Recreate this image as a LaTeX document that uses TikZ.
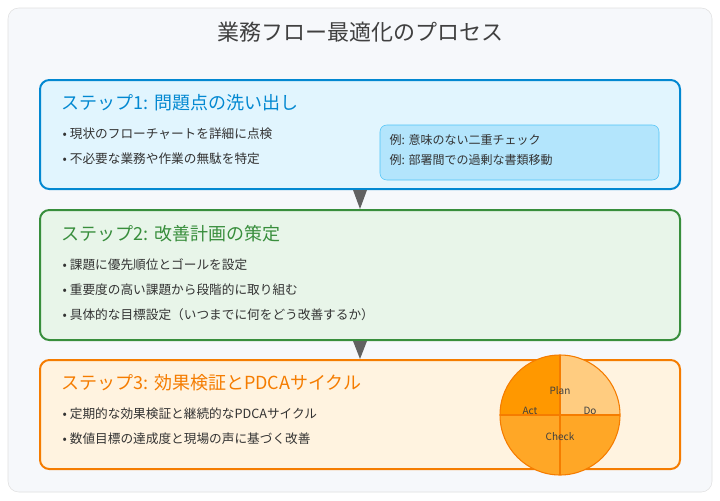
\documentclass[tikz,border=0pt]{standalone}
\usepackage{fontspec}
\setmainfont{Noto Sans CJK JP}
\begin{document}
\begin{tikzpicture}[x=0.75pt,y=-0.75pt,
  stepbox/.style={draw=#1,line width=1.5pt,rounded corners=7pt},
  ttl/.style={anchor=west,font=\fontsize{13.5}{15}\selectfont},
  bul/.style={anchor=west,font=\fontsize{9.5}{11}\selectfont,text=black!80},
  arr/.style={fill=black!62,draw=none},
  lbl/.style={font=\fontsize{7.5}{9}\selectfont,text=black!75}]
\definecolor{bA}{HTML}{0288D1}\definecolor{fA}{HTML}{E1F5FE}
\definecolor{bB}{HTML}{388E3C}\definecolor{fB}{HTML}{E8F5E9}
\definecolor{bC}{HTML}{F57C00}\definecolor{fC}{HTML}{FFF3E0}
\definecolor{bg}{HTML}{F6F8FB}
\definecolor{exf}{HTML}{B3E5FC}\definecolor{exb}{HTML}{4FC3F7}
\definecolor{qM}{HTML}{FFA726}\definecolor{qD}{HTML}{FF9800}\definecolor{qL}{HTML}{FFCC80}
\useasboundingbox (0,0) rectangle (720,500);
\fill[white] (0,0) rectangle (720,500);
\draw[fill=bg,draw=black!12,rounded corners=8pt] (8,8) rectangle (712,492);
\node (title) at (360,32) {\fontsize{16.5}{18}\selectfont\color{black!75}業務フロー最適化のプロセス};
% box 1
\draw[stepbox=bA,fill=fA] (40,80) rectangle (680,189);
\node[ttl,text=bA] (t1) at (57,103) {ステップ1: 問題点の洗い出し};
\node[bul] (b11) at (58,134) {•\ 現状のフローチャートを詳細に点検};
\node[bul] (b12) at (58,159) {•\ 不必要な業務や作業の無駄を特定};
\draw[fill=exf,draw=exb,rounded corners=5pt] (380,125) rectangle (659,180);
\node[bul,font=\fontsize{9}{11}\selectfont] (e1) at (385,140) {例: 意味のない二重チェック};
\node[bul,font=\fontsize{9}{11}\selectfont] (e2) at (385,160) {例: 部署間での過剰な書類移動};
\fill[arr] (353,190) -- (367,190) -- (360,209) -- cycle;
% box 2
\draw[stepbox=bB,fill=fB] (40,210) rectangle (680,340);
\node[ttl,text=bB] (t2) at (57,234) {ステップ2: 改善計画の策定};
\node[bul] (b21) at (58,265) {•\ 課題に優先順位とゴールを設定};
\node[bul] (b22) at (58,290) {•\ 重要度の高い課題から段階的に取り組む};
\node[bul] (b23) at (58,315) {•\ 具体的な目標設定（いつまでに何をどう改善するか）};
\fill[arr] (353,341) -- (367,341) -- (360,359) -- cycle;
% box 3
\draw[stepbox=bC,fill=fC] (40,360) rectangle (680,469);
\node[ttl,text=bC] (t3) at (57,383) {ステップ3: 効果検証とPDCAサイクル};
\node[bul] (b31) at (58,414) {•\ 定期的な効果検証と継続的なPDCAサイクル};
\node[bul] (b32) at (58,439) {•\ 数値目標の達成度と現場の声に基づく改善};
% PDCA circle
\coordinate (c) at (560,415);
\fill[qM] (c) circle[radius=45pt];
\fill[qD] (c) -- (500,415) arc[start angle=180,end angle=90,radius=45pt] -- cycle;
\fill[qL] (c) -- (560,355) arc[start angle=90,end angle=0,radius=45pt] -- cycle;
\draw[bC,line width=1pt] (500,415) -- (620,415) (560,355) -- (560,475);
\draw[bC,line width=0.8pt] (c) circle[radius=45pt];
\node[lbl] (plan) at (560,391) {Plan};
\node[lbl] (act) at (530,411) {Act};
\node[lbl] (do) at (590,411) {Do};
\node[lbl] (check) at (560,437) {Check};
\end{tikzpicture}
\end{document}
